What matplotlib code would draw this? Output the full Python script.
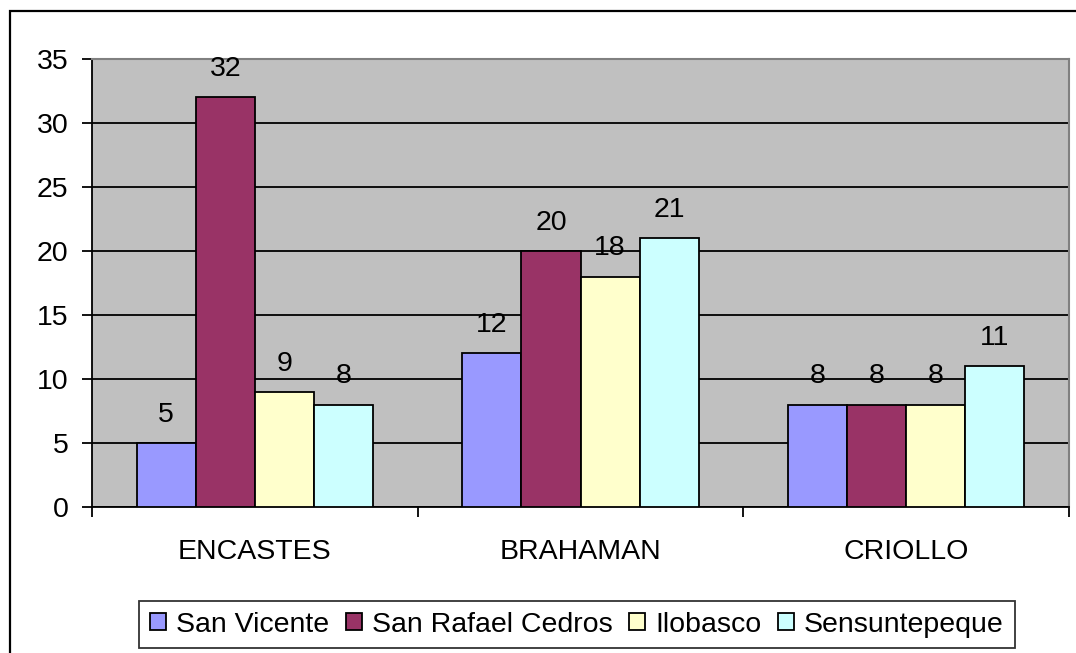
import numpy as np
import matplotlib
matplotlib.use('Agg')
import matplotlib.pyplot as plt
from matplotlib.patches import Rectangle, Patch

categories = ['ENCASTES', 'BRAHAMAN', 'CRIOLLO']
series = ['San Vicente', 'San Rafael Cedros', 'Ilobasco', 'Sensuntepeque']
san_vicente = [5, 12, 8]
san_rafael = [32, 20, 8]
ilobasco = [9, 18, 8]
sensuntepeque = [8, 21, 11]
values = [san_vicente, san_rafael, ilobasco, sensuntepeque]
colors = ['#9999FF', '#993366', '#FFFFCC', '#CCFFFF']

plt.rcParams['font.family'] = ['Liberation Sans', 'DejaVu Sans']
FS = 20.5

W, H = 1076, 653
fig = plt.figure(figsize=(W / 100, H / 100), dpi=100)
ax = fig.add_axes([92 / W, 1 - 507 / H, (1069 - 92) / W, (507 - 59) / H])

# outer chart frame (right/bottom run off the image)
fig.patches.append(Rectangle((10 / W, -0.2), 1.5, 1 - 11 / H + 0.2, transform=fig.transFigure,
                             fill=False, edgecolor='black', linewidth=1.6, zorder=0))

ax.set_facecolor('#C0C0C0')
x = np.arange(len(categories))
group = 0.725
bw = group / len(series)
for i, (name, vals) in enumerate(zip(series, values)):
    pos = x - group / 2 + bw * (i + 0.5)
    ax.bar(pos, vals, width=bw, color=colors[i], edgecolor='black', linewidth=1.3, zorder=3, label=name)
    for px, v in zip(pos, vals):
        ax.annotate(str(v), (px, v), xytext=(0, 11), textcoords='offset points',
                    ha='center', va='bottom', fontsize=FS, zorder=4)

ax.set_xlim(-0.5, 2.5)
ax.set_ylim(0, 35)
ax.set_yticks(range(0, 36, 5))
ax.yaxis.grid(True, color='black', linewidth=1.3, zorder=1)
ax.set_axisbelow(True)

ax.set_xticks(x)
ax.set_xticklabels(categories)
ax.set_xticks([-0.5, 0.5, 1.5, 2.5], minor=True)
ax.tick_params(axis='x', which='major', length=0, pad=23, labelsize=FS)
ax.tick_params(axis='x', which='minor', length=7, width=1.3, direction='out')
ax.tick_params(axis='y', length=7, width=1.3, pad=10, labelsize=FS)

for s in ['left', 'bottom']:
    ax.spines[s].set_linewidth(1.3)
    ax.spines[s].set_color('black')
for s in ['top', 'right']:
    ax.spines[s].set_color('#808080')
    ax.spines[s].set_linewidth(1.5)

handles = [Patch(facecolor=c, edgecolor='black', linewidth=1.3) for c in colors]
leg = fig.legend(handles, series, loc='center', bbox_to_anchor=(577 / W, 1 - 624.5 / H), ncol=4,
                 fontsize=FS, frameon=True, fancybox=False, edgecolor='black',
                 handlelength=0.55, handleheight=0.55, handletextpad=0.35, columnspacing=0.6,
                 borderpad=0.38, borderaxespad=0)
leg.get_frame().set_linewidth(1.3)

fig.savefig('out.png', dpi=100)
